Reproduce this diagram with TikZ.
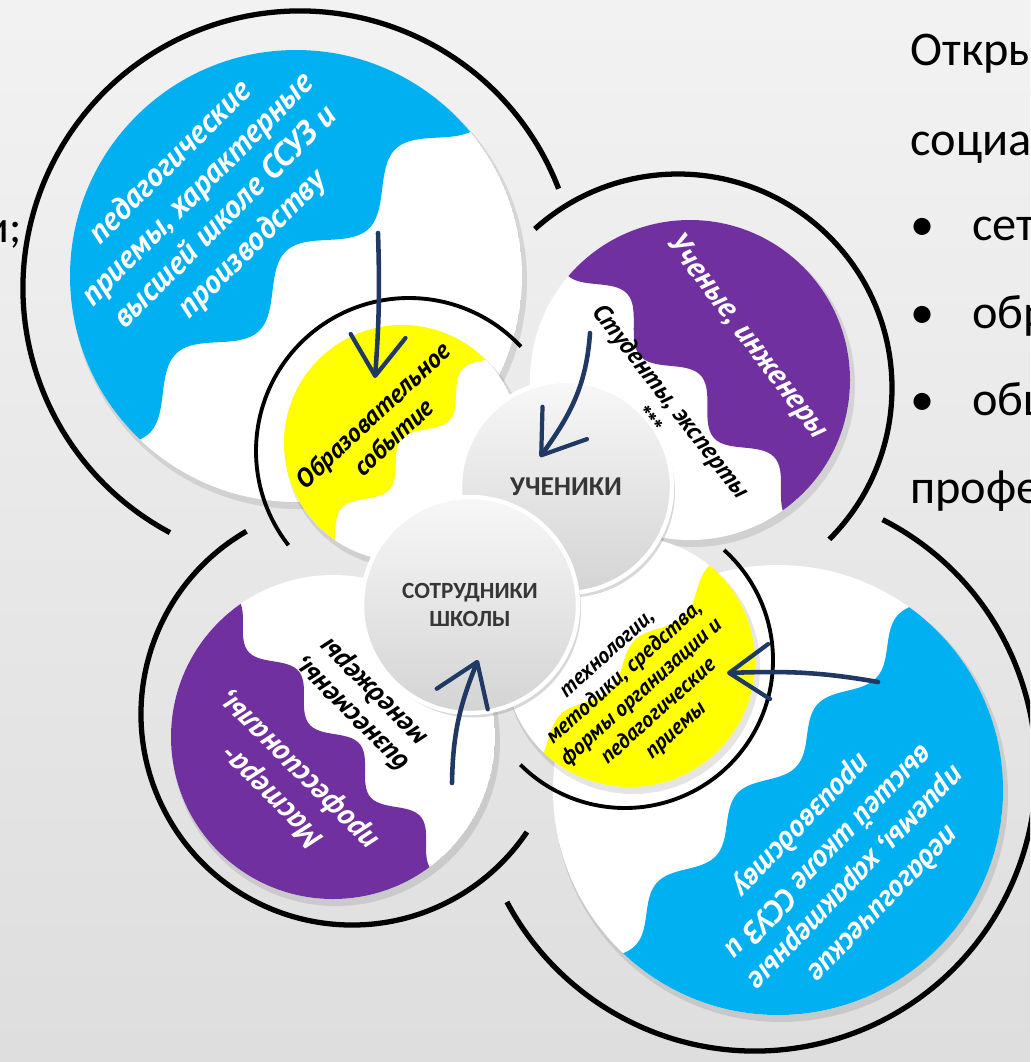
\documentclass[tikz,border=0pt]{standalone}
\usepackage{fontspec}
\setmainfont{Carlito}
\newfontfamily\handfont{PT Sans}
\usetikzlibrary{arrows.meta,shadows}

\definecolor{discblue}{HTML}{00B0F0}
\definecolor{discpurple}{HTML}{7030A0}
\definecolor{discyellow}{HTML}{FFFF00}
\definecolor{arrowblue}{HTML}{203864}
\definecolor{labelgray}{HTML}{363636}

\tikzset{
  ring/.style={line width=3pt},
  smallring/.style={line width=2.2pt},
  discshadow/.style={fill=black, opacity=0.10},
  pen/.style={arrowblue, line width=2.6pt, line cap=round,
    -{Straight Barb[length=8mm, width=11mm, line width=2.4pt, round]}},
  hand/.style 2 args={align=center, font=\handfont\bfseries\itshape\fontsize{#1}{#2}\selectfont},
  pupil/.style={circle, inner sep=0pt, draw=white, line width=2.5pt,
    top color=black!3, bottom color=black!17, text=labelgray, align=center,
    drop shadow={opacity=0.3, shadow xshift=0.6mm, shadow yshift=-0.9mm}},
  slide/.style={anchor=base west, inner sep=0pt, font=\fontsize{27.5pt}{32pt}\selectfont},
}

% centre, radius, colour, side, offset, amplitude, wave length, phase
\newcommand{\wavydisc}[8]{%
  \fill[discshadow] ([shift={(3,-5)}]#1) circle (#2+2);
  \begin{scope}
    \clip (#1) circle (#2);
    \fill[white] (#1) circle (#2);
    \fill[#3, shift={(#1)}, rotate=#4-90]
      plot[domain=-#2:#2, samples=90, smooth] (\x, {#5+#6*cos((\x-(#8))/#7*360)})
      -- (#2, #2+20) -- (-#2, #2+20) -- cycle;
  \end{scope}}

\begin{document}
\begin{tikzpicture}[x=0.2mm, y=0.2mm]
  \useasboundingbox (0,0) rectangle (1030,-1062);
  \clip (0,0) rectangle (1030,-1062);
  \shade[top color=black!5, bottom color=black!13] (0,0) rectangle (1030,-1062);

  \coordinate (tl) at (296,-276);
  \coordinate (tr) at (690,-380);
  \coordinate (bl) at (333,-737);
  \coordinate (br) at (778,-790);
  \coordinate (ty) at (402,-443);
  \coordinate (by) at (630,-662);

  \wavydisc{tl}{226}{discblue}{133}{5}{20}{150}{10}
  \wavydisc{tr}{160}{discpurple}{42}{-5}{16}{110}{4}
  \wavydisc{bl}{162}{discpurple}{220}{-3}{13}{95}{25}
  \wavydisc{br}{225}{discblue}{-42}{-15}{13}{120}{-30}

  \draw[ring] ([shift={(21:277)}]300,-288) arc[start angle=21, end angle=242, radius=277];
  \draw[ring] ([shift={(-45:214)}]678,-388) arc[start angle=-45, end angle=132, radius=214];
  \draw[ring] ([shift={(120:211)}]352,-714) arc[start angle=120, end angle=326, radius=211];
  \draw[ring] ([shift={(63:281)}]755,-770) arc[start angle=63, end angle=-152, radius=281];

  \wavydisc{ty}{118}{discyellow}{139}{-9}{12}{92}{3}
  \wavydisc{by}{125}{discyellow}{-45}{-3}{9}{105}{34}

  \draw[smallring] ([shift={(43:153)}]409,-451) arc[start angle=43, end angle=218, radius=153];
  \draw[smallring] ([shift={(48:148)}]625,-660) arc[start angle=48, end angle=-135, radius=148];

  \node[hand={18.5pt}{22pt}, text=white, rotate=45] (tlnote) at (212,-204)
    {педагогические\\приемы, характерные\\высшей школе ССУЗ и\\производству};
  \node[hand={17.5pt}{21.5pt}, text=white, rotate=226] (brnote) at (842,-864)
    {педагогические\\приемы, характерные\\высшей школе ССУЗ и\\производству};
  \node[hand={17.5pt}{20pt}, text=white, rotate=-53] (trnote) at (747,-337) {Ученые, инженеры};
  \node[hand={14.5pt}{17.5pt}, rotate=-52] (trnote2) at (660,-410) {Студенты, эксперты\\***};
  \node[hand={17.5pt}{21pt}, text=white, rotate=135] (blnote) at (286,-783) {Мастера-\\профессионалы,};
  \node[hand={16pt}{17.6pt}, rotate=135] (blnote2) at (363,-703) {бизнесмены,\\менеджеры};
  \node[hand={14.8pt}{17pt}, rotate=43] (tynote) at (383,-426) {Образовательное\\событие};
  \node[hand={12.6pt}{14.6pt}, rotate=42] (bynote) at (643,-694)
    {технологии,\\методики, средства,\\формы организации и\\педагогические\\приемы};

  \node[pupil, minimum size=42.4mm, font=\bfseries\fontsize{15.5pt}{18pt}\selectfont] (pupils) at (566,-487) {УЧЕНИКИ};
  \node[pupil, minimum size=43.2mm, font=\bfseries\fontsize{13.2pt}{15.5pt}\selectfont] (staff) at (470,-605) {СОТРУДНИКИ\\ШКОЛЫ};

  \coordinate (a1s) at (378,-233); \coordinate (a1e) at (375,-378);
  \coordinate (a2s) at (590,-333); \coordinate (a2e) at (540,-457);
  \coordinate (a3s) at (452,-783); \coordinate (a3e) at (478,-660);
  \coordinate (a4s) at (878,-682); \coordinate (a4e) at (727,-673);
  \draw[pen] (a1s) to[bend left=3] (a1e);
  \draw[pen] (a2s) to[out=-94, in=54] (a2e);
  \draw[pen] (a3s) to[out=89, in=-112] (a3e);
  \draw[pen] (a4s) to[out=170, in=2] (a4e);

  \node[slide, anchor=base east, font=\fontsize{26pt}{30pt}\selectfont] (semi) at (22,-242) {и;};
  \node[slide] (open) at (910,-65) {Откры};
  \node[slide] (social) at (910,-155) {социал};
  \node[slide] (dota) at (910,-240) {•};
  \node[slide] (net) at (972,-240) {сет};
  \node[slide] (dotb) at (910,-328) {•};
  \node[slide] (edu) at (972,-328) {обр};
  \node[slide] (dotc) at (910,-415) {•};
  \node[slide] (pub) at (972,-415) {общ};
  \node[slide] (prof) at (910,-503) {профе};
\end{tikzpicture}
\end{document}
